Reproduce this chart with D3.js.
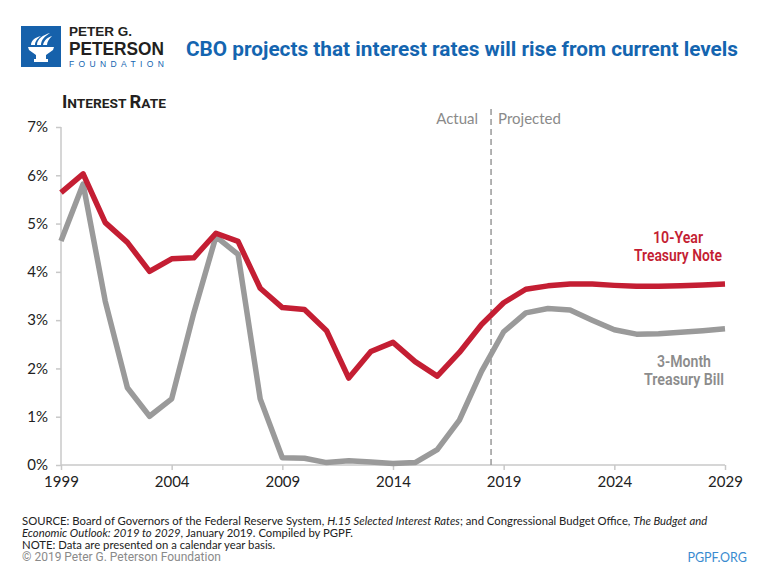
<!DOCTYPE html>
<html>
<head>
<meta charset="utf-8">
<script src="https://cdn.jsdelivr.net/npm/d3@7"></script>
<style>
  html, body { margin: 0; padding: 0; background: #fff; }
  svg { display: block; }
</style>
</head>
<body>
<svg id="chart" width="768" height="576"></svg>
<script>
// ---- data ----
const years = [1999, 2000, 2001, 2002, 2003, 2004, 2005, 2006, 2007, 2008, 2009, 2010, 2011, 2012, 2013, 2014, 2015, 2016, 2017, 2018, 2019, 2020, 2021, 2022, 2023, 2024, 2025, 2026, 2027, 2028, 2029];
const treasuryNote10Y = [5.64, 6.03, 5.02, 4.61, 4.01, 4.27, 4.29, 4.80, 4.63, 3.66, 3.26, 3.22, 2.78, 1.80, 2.35, 2.54, 2.14, 1.84, 2.33, 2.91, 3.36, 3.64, 3.71, 3.75, 3.75, 3.72, 3.70, 3.70, 3.71, 3.73, 3.75];
const treasuryBill3M = [4.64, 5.82, 3.39, 1.60, 1.01, 1.37, 3.15, 4.73, 4.36, 1.37, 0.15, 0.14, 0.05, 0.09, 0.06, 0.03, 0.05, 0.32, 0.93, 1.94, 2.76, 3.15, 3.24, 3.21, 3.00, 2.80, 2.71, 2.72, 2.75, 2.78, 2.82];
const xTickYears = [1999, 2004, 2009, 2014, 2019, 2024, 2029];
const yTickValues = [0, 1, 2, 3, 4, 5, 6, 7];
const dividerYear = 2018.43;

const svg = d3.select("#chart");
const narrow = "'Liberation Sans Narrow', 'Roboto', 'Liberation Sans', sans-serif";
const body = "Lato, 'Open Sans', sans-serif";
const RED = "#c41e33";
const GRAY = "#9a9a9a";
const BLUE = "#1465b0";

// ---- header / logo ----
const logo = svg.append("g");
logo.append("rect").attr("x", 21).attr("y", 26).attr("width", 40).attr("height", 41).attr("fill", "#1661ab");
// torch (white)
logo.append("path").attr("fill", "#fff")
  .attr("d", "M28,47 L54,47 L53,50 L46,55 L46,59 L48,59 L48,62 L34,62 L34,59 L36,59 L36,55 L29,50 Z");
logo.append("path").attr("fill", "#fff")
  .attr("d", "M31,45 C31,40 36,37 41,36 C38,38 35,41 35,45 Z");
logo.append("path").attr("fill", "#fff")
  .attr("d", "M37,45 C37,39 43,35 50,33 C45,36 41,40 41,45 Z");
logo.append("path").attr("fill", "#fff")
  .attr("d", "M43,45 C44,40 48,37 52,36 C49,39 47,42 47,45 Z");
const logoFont = "'Liberation Sans', Arial, sans-serif";
logo.append("text").attr("x", 69).attr("y", 35.5).text("PETER G.")
  .attr("font-family", logoFont).attr("font-weight", "bold").attr("font-size", 12)
  .attr("fill", "#231f20").attr("textLength", 63).attr("lengthAdjust", "spacingAndGlyphs");
logo.append("text").attr("x", 69).attr("y", 55).text("PETERSON")
  .attr("font-family", logoFont).attr("font-weight", "bold").attr("font-size", 18.5)
  .attr("fill", "#231f20").attr("textLength", 95).attr("lengthAdjust", "spacingAndGlyphs");
logo.append("text").attr("x", 69).attr("y", 67).text("FOUNDATION")
  .attr("font-family", logoFont).attr("font-size", 8.5).attr("fill", BLUE)
  .attr("textLength", 95).attr("lengthAdjust", "spacing");

svg.append("text").attr("x", 186).attr("y", 56)
  .text("CBO projects that interest rates will rise from current levels")
  .attr("font-family", narrow).attr("font-weight", "bold").attr("font-size", 20)
  .attr("fill", BLUE).attr("textLength", 552).attr("lengthAdjust", "spacingAndGlyphs");

// ---- scales ----
const x = d3.scaleLinear().domain([1999, 2029]).range([61, 725]);
const y = d3.scaleLinear().domain([0, 7]).range([465, 127]);

// y axis title (small caps)
const yt = svg.append("text").attr("x", 62).attr("y", 108)
  .attr("font-family", narrow).attr("font-weight", "bold").attr("fill", "#231f20")
  .attr("textLength", 104).attr("lengthAdjust", "spacingAndGlyphs");
yt.append("tspan").attr("font-size", 18).text("I");
yt.append("tspan").attr("font-size", 13.5).text("NTEREST ");
yt.append("tspan").attr("font-size", 18).text("R");
yt.append("tspan").attr("font-size", 13.5).text("ATE");

// ---- axes ----
const yAxis = svg.append("g").attr("transform", "translate(61,0)")
  .call(d3.axisLeft(y).tickValues(yTickValues).tickFormat(d => d + "%").tickSize(5).tickPadding(8));
const xAxis = svg.append("g").attr("transform", "translate(0,465)")
  .call(d3.axisBottom(x).tickValues(xTickYears).tickFormat(d3.format("d")).tickSize(5).tickPadding(6));
[yAxis, xAxis].forEach(a => {
  a.select(".domain").attr("stroke", "#c8c8c8").attr("stroke-width", 1.5);
  a.selectAll(".tick line").attr("stroke", "#c8c8c8").attr("stroke-width", 1.5);
  a.selectAll(".tick text").attr("font-family", body).attr("font-size", 15).attr("fill", "#222");
});
xAxis.select(".domain").attr("d", `M${x(1999)},0H${x(2029)}`);
yAxis.select(".domain").attr("d", `M0,${y(7)}V${y(0)}`);

// ---- divider ----
svg.append("line").attr("x1", x(dividerYear)).attr("x2", x(dividerYear))
  .attr("y1", 109).attr("y2", y(0))
  .attr("stroke", "#999").attr("stroke-width", 1.5).attr("stroke-dasharray", "6,4");
svg.append("text").attr("x", x(dividerYear) - 13).attr("y", 124).attr("text-anchor", "end")
  .text("Actual").attr("font-family", body).attr("font-size", 15).attr("fill", "#8a8a8a");
svg.append("text").attr("x", x(dividerYear) + 7).attr("y", 124)
  .text("Projected").attr("font-family", body).attr("font-size", 15).attr("fill", "#8a8a8a");

// ---- lines ----
const line = d3.line().x(d => x(d[0])).y(d => y(d[1]));
svg.append("path").datum(years.map((yr, i) => [yr, treasuryBill3M[i]]))
  .attr("d", line).attr("fill", "none").attr("stroke", GRAY).attr("stroke-width", 5.5)
  .attr("stroke-linejoin", "round");
svg.append("path").datum(years.map((yr, i) => [yr, treasuryNote10Y[i]]))
  .attr("d", line).attr("fill", "none").attr("stroke", RED).attr("stroke-width", 5.5)
  .attr("stroke-linejoin", "round");

// ---- series labels ----
function label(lines, widths, cx, y0, color) {
  lines.forEach((t, i) => {
    svg.append("text").attr("x", cx).attr("y", y0 + i * 18).attr("text-anchor", "middle")
      .text(t).attr("font-family", narrow).attr("font-weight", 600).attr("font-size", 16.5)
      .attr("fill", color).attr("textLength", widths[i]).attr("lengthAdjust", "spacingAndGlyphs");
  });
}
label(["10-Year", "Treasury Note"], [50, 88], 678, 243, RED);
label(["3-Month", "Treasury Bill"], [54, 80], 684, 367, "#8c8c8c");

// ---- footer ----
const foot = svg.append("g").attr("font-family", body).attr("font-size", 11.3).attr("fill", "#222");
const l1 = foot.append("text").attr("x", 22).attr("y", 525);
l1.append("tspan").text("SOURCE: Board of Governors of the Federal Reserve System, ");
l1.append("tspan").attr("font-style", "italic").text("H.15 Selected Interest Rates");
l1.append("tspan").text("; and Congressional Budget Office, ");
l1.append("tspan").attr("font-style", "italic").text("The Budget and");
const l2 = foot.append("text").attr("x", 22).attr("y", 537);
l2.append("tspan").attr("font-style", "italic").text("Economic Outlook: 2019 to 2029");
l2.append("tspan").text(", January 2019. Compiled by PGPF.");
foot.append("text").attr("x", 22).attr("y", 549).text("NOTE: Data are presented on a calendar year basis.");
svg.append("text").attr("x", 22).attr("y", 561).text("© 2019 Peter G. Peterson Foundation")
  .attr("font-family", narrow).attr("font-size", 12).attr("fill", "#8a8a8a");
svg.append("text").attr("x", 747).attr("y", 562).attr("text-anchor", "end").text("PGPF.ORG")
  .attr("font-family", body).attr("font-size", 12.5).attr("fill", "#3a8bd0");
</script>
</body>
</html>
